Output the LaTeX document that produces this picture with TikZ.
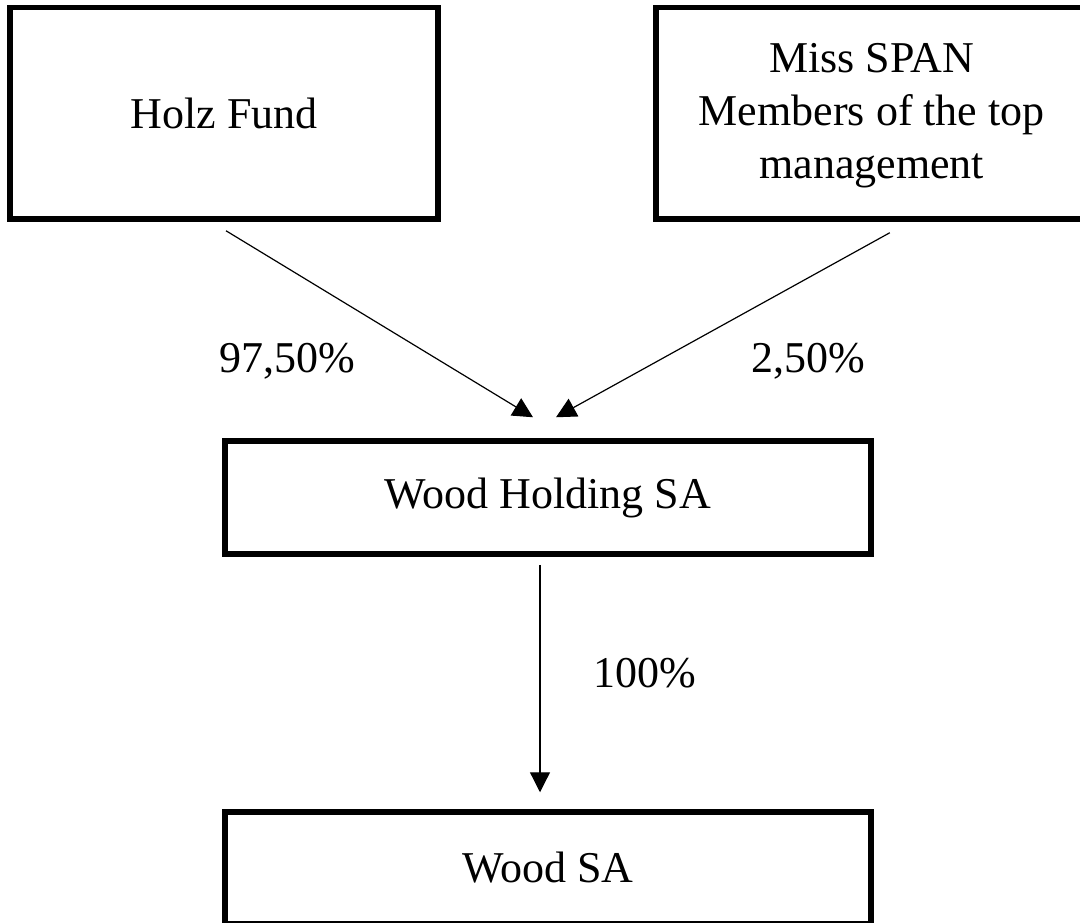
\documentclass[tikz,border=0pt]{standalone}
\usepackage{fontspec}
\setmainfont{Liberation Serif}
\usepackage{tikz}
\usetikzlibrary{arrows.meta, positioning, calc}

\tikzset{
  orgbox/.style={draw=black, line width=2.75pt, inner sep=0pt, font=\fontsize{22}{26}\selectfont},
  pct/.style={font=\fontsize{22}{26}\selectfont, anchor=base, inner sep=0pt},
  link/.style={-{Triangle[length=10pt, width=10pt]}, line width=0.6pt}
}

\begin{document}
\begin{tikzpicture}[x=0.5pt, y=-0.5pt]
  \useasboundingbox (0,0) rectangle (1080,922);

  % Owners
  \node[orgbox, minimum width=214pt, minimum height=105.75pt] (holz) at (224, 113.25) {Holz Fund};
  \node[orgbox, minimum width=214pt, minimum height=105.75pt] (miss) at (869.75, 113.25) {};
  \node[font=\fontsize{22}{26.5}\selectfont, align=center, anchor=north, inner sep=0pt] (misstext) at ($(miss.north)+(2, 38)$) {Miss SPAN\\Members of the top\\management};

  % Holding
  \node[orgbox, minimum width=323pt, minimum height=56.5pt] (wh) at (548, 497.5) {Wood Holding SA};

  % Operating company
  \node[orgbox, minimum width=323pt, minimum height=55.75pt] (wood) at (548, 867.75) {Wood SA};

  % Shares
  \draw[link] ($(holz.south)+(2, 9)$) -- ($(wh.north)+(-15, -21)$);
  \draw[link] ($(miss.south)+(20, 11)$) -- ($(wh.north)+(8, -21)$);
  \draw[link] ($(wh.south)+(-8, 8)$) -- ($(wood.north)+(-8, -17)$);

  \node[pct] (pholz) at (287, 372) {97,50\%};
  \node[pct] (pmiss) at (808, 372) {2,50\%};
  \node[pct] (pwood) at (645, 687) {100\%};
\end{tikzpicture}
\end{document}
